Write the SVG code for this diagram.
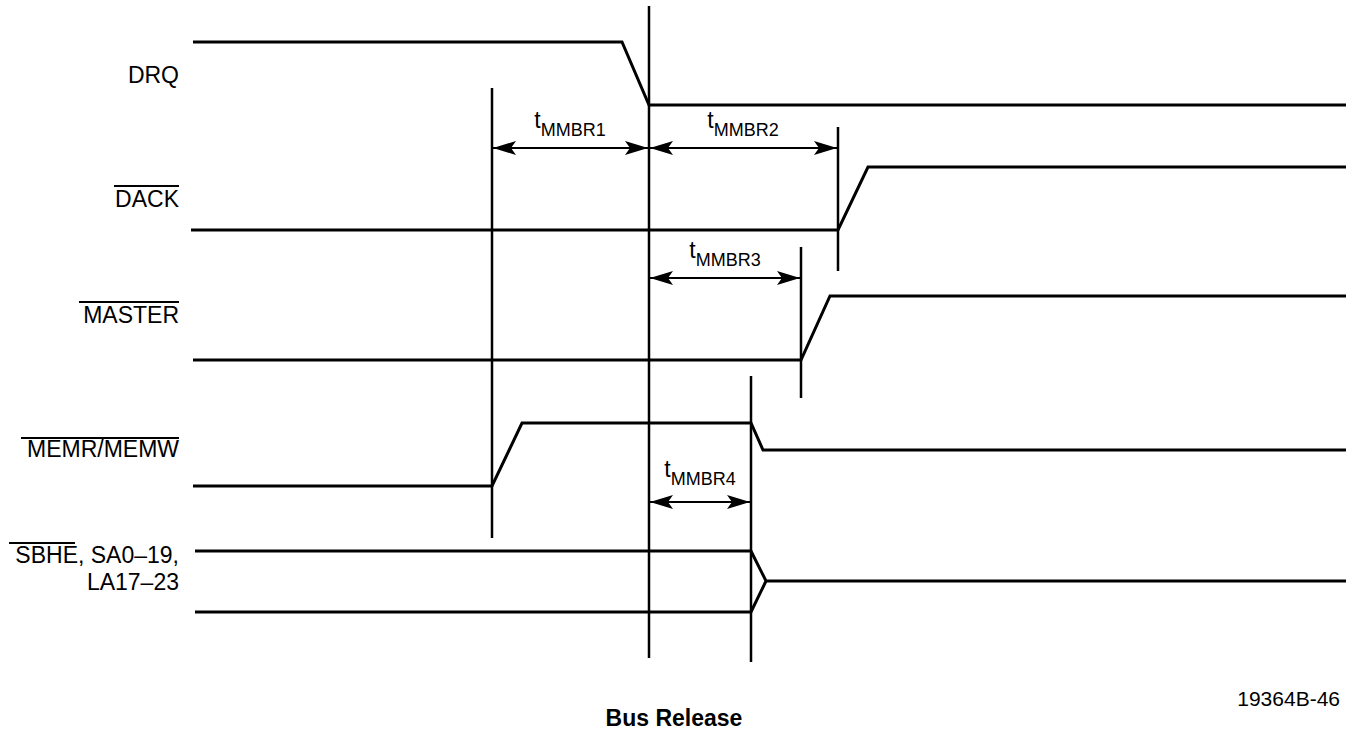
<svg xmlns="http://www.w3.org/2000/svg" width="1354" height="733" viewBox="0 0 1354 733">
<style>
.wave{fill:none;stroke:#000;stroke-width:3;stroke-linejoin:miter}
.ref{fill:none;stroke:#000;stroke-width:2.5}
.dim{fill:none;stroke:#000;stroke-width:2;marker-start:url(#ah);marker-end:url(#ah)}
.ovl{stroke:#000;stroke-width:1.8}
.lbl{font-family:"Liberation Sans",Arial,sans-serif;font-size:23px;fill:#000;text-anchor:end}
.tl{font-family:"Liberation Sans",Arial,sans-serif;font-size:23px;fill:#000;text-anchor:middle}
.sub{font-size:18px}
</style>
<defs>
<marker id="ah" viewBox="-24 -8 26 16" refX="0" refY="0" markerWidth="26" markerHeight="16" markerUnits="userSpaceOnUse" orient="auto-start-reverse">
<path d="M0,0 L-23,-7 L-18,0 L-23,7 Z" fill="#000"/>
</marker>
</defs>
<g id="sig-drq">
<text class="lbl" x="179" y="83">DRQ</text>
<path class="wave" d="M193,42 H622 L649,105 H1346"/>
</g>
<g id="sig-dack">
<text class="lbl" x="179" y="207">DACK</text>
<line class="ovl" x1="114" y1="186" x2="179" y2="186"/>
<path class="wave" d="M191,230 H838 L868,167 H1346"/>
</g>
<g id="sig-master">
<text class="lbl" x="179" y="323">MASTER</text>
<line class="ovl" x1="79" y1="302" x2="179" y2="302"/>
<path class="wave" d="M193,360 H801 L830,296 H1346"/>
</g>
<g id="sig-memr">
<text class="lbl" x="179" y="457">MEMR/MEMW</text>
<line class="ovl" x1="21" y1="438" x2="179" y2="438"/>
<path class="wave" d="M193,486 H492 L522,423 H751 L763,450 H1346"/>
</g>
<g id="sig-sbhe">
<text class="lbl" x="179" y="563">SBHE, SA0–19,</text>
<text class="lbl" x="179" y="590">LA17–23</text>
<line class="ovl" x1="9" y1="543" x2="75" y2="543"/>
<path class="wave" d="M195,551 H751 L766,581 H1346 M766,581 L751,612 H195"/>
</g>
<g id="connectors">
<line class="ref" x1="649" y1="6" x2="649" y2="658"/>
<line class="ref" x1="492" y1="88" x2="492" y2="538"/>
<line class="ref" x1="838" y1="127" x2="838" y2="271"/>
<line class="ref" x1="801" y1="247" x2="801" y2="398"/>
<line class="ref" x1="751" y1="376" x2="751" y2="662"/>
<line class="dim" x1="493" y1="148" x2="648" y2="148"/>
<line class="dim" x1="650" y1="148" x2="837" y2="148"/>
<line class="dim" x1="650" y1="278" x2="800" y2="278"/>
<line class="dim" x1="650" y1="502" x2="750" y2="502"/>
</g>
<g id="timing-labels">
<text class="tl" x="570" y="128">t<tspan class="sub" dy="8">MMBR1</tspan></text>
<text class="tl" x="743" y="128">t<tspan class="sub" dy="8">MMBR2</tspan></text>
<text class="tl" x="725" y="258">t<tspan class="sub" dy="8">MMBR3</tspan></text>
<text class="tl" x="700" y="477">t<tspan class="sub" dy="8">MMBR4</tspan></text>
</g>
<text x="1340" y="706" font-family="'Liberation Sans',Arial,sans-serif" font-size="21" text-anchor="end">19364B-46</text>
<text x="674" y="726" font-family="'Liberation Sans',Arial,sans-serif" font-size="23" font-weight="bold" text-anchor="middle">Bus Release</text>
</svg>
